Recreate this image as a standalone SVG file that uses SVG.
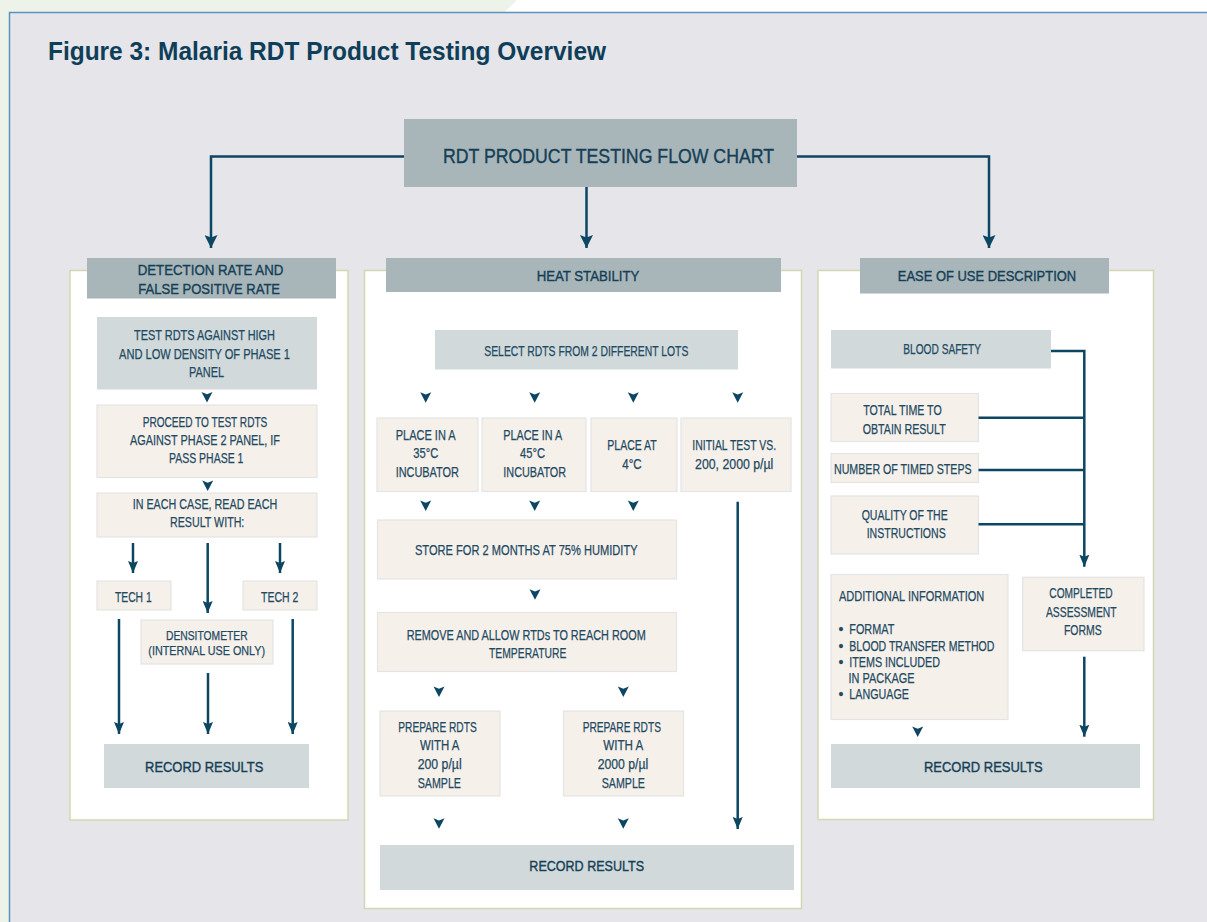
<svg xmlns="http://www.w3.org/2000/svg" xmlns:xlink="http://www.w3.org/1999/xlink" width="1207" height="922" viewBox="0 0 1207 922">
<style>
.bg{fill:#eef3ea}
.panel{fill:#e5e5ea}
.col{fill:#ffffff;stroke:#d5d7b3;stroke-width:1.5}
.hdr{fill:#a8b6ba}
.blue{fill:#d1d9db}
.beige{fill:#f6f0eb;stroke:#e4e4e4;stroke-width:1.2}
text{font-family:"Liberation Sans",Arial,sans-serif;fill:#1e4a62;font-size:14px;stroke:#1e4a62;stroke-width:0.25}
.c{text-anchor:middle}
.s{font-size:12.5px}
.h{font-size:15.5px;fill:#163f56;stroke:#163f56;stroke-width:0.4}
.r{font-size:15.5px;fill:#163f56;stroke:#163f56;stroke-width:0.4}
.title{font-size:25px;font-weight:bold;fill:#0f3e58;stroke:none}
.top{font-size:21px;fill:#163f56;stroke:#163f56;stroke-width:0.4}
.ln{fill:none;stroke:#0d4663;stroke-width:2.5}
</style>
<defs>
<marker id="mb" viewBox="0 0 13 13" markerWidth="13" markerHeight="13" refX="6.5" refY="13" orient="0" markerUnits="userSpaceOnUse">
<path d="M0,0 L6.5,2.5 L13,0 L6.5,13 Z" fill="#0d4663"/>
</marker>
<marker id="md" viewBox="0 0 10 12" markerWidth="10" markerHeight="12" refX="5" refY="12" orient="0" markerUnits="userSpaceOnUse">
<path d="M0,0 L5,2 L10,0 L5,12 Z" fill="#0d4663"/>
</marker>
<path id="sa" d="M-5.5,0 L0,2.2 L5.5,0 L0,10.5 Z" fill="#0d4663"/>
</defs>

<rect class="bg" x="0" y="0" width="1207" height="922"/>
<polygon points="517,0 1207,0 1207,12 505,12" fill="#ffffff"/>
<rect class="panel" x="9.5" y="12.5" width="1198" height="910"/>
<path d="M9.5,922 V12.5 H1207" fill="none" stroke="#5b93c0" stroke-width="1.5"/>

<text class="title" x="48" y="60" textLength="558" lengthAdjust="spacingAndGlyphs">Figure 3: Malaria RDT Product Testing Overview</text>

<g id="top-node">
<rect class="hdr" x="404" y="119" width="393" height="68"/>
<text class="top c" x="608.5" y="163" textLength="331" lengthAdjust="spacingAndGlyphs">RDT PRODUCT TESTING FLOW CHART</text>
</g>

<!-- Left column -->
<g id="col-left">
<rect class="col" x="70" y="270.5" width="278" height="549.5"/>
</g>
<g id="hdr-detection">
<rect class="hdr" x="87" y="258" width="249" height="40.5"/>
<text class="h c" x="210.5" y="275" textLength="145.7" lengthAdjust="spacingAndGlyphs">DETECTION RATE AND</text>
<text class="h c" x="209.2" y="294" textLength="141.7" lengthAdjust="spacingAndGlyphs">FALSE POSITIVE RATE</text>
</g>
<g id="test-rdts">
<rect class="blue" x="97" y="317" width="220" height="72.5"/>
<text class="c" x="204.5" y="340" textLength="141" lengthAdjust="spacingAndGlyphs">TEST RDTS AGAINST HIGH</text>
<text class="c" x="204.5" y="359" textLength="171" lengthAdjust="spacingAndGlyphs">AND LOW DENSITY OF PHASE 1</text>
<text class="c" x="206.5" y="377" textLength="35" lengthAdjust="spacingAndGlyphs">PANEL</text>
</g>
<g id="proceed">
<rect class="beige" x="97" y="405" width="220" height="72.5"/>
<text class="c" x="205" y="426.7" textLength="124.6" lengthAdjust="spacingAndGlyphs">PROCEED TO TEST RDTS</text>
<text class="c" x="205" y="445" textLength="150" lengthAdjust="spacingAndGlyphs">AGAINST PHASE 2 PANEL, IF</text>
<text class="c" x="206.2" y="463.3" textLength="74.3" lengthAdjust="spacingAndGlyphs">PASS PHASE 1</text>
</g>
<g id="each-case">
<rect class="beige" x="97" y="493" width="220" height="44"/>
<text class="c" x="205" y="509.3" textLength="144.6" lengthAdjust="spacingAndGlyphs">IN EACH CASE, READ EACH</text>
<text class="c" x="207.2" y="526.7" textLength="74.3" lengthAdjust="spacingAndGlyphs">RESULT WITH:</text>
</g>
<g id="tech1">
<rect class="beige" x="97" y="581" width="74" height="29"/>
<text class="c" x="133.3" y="601.7" textLength="36.7" lengthAdjust="spacingAndGlyphs">TECH 1</text>
</g>
<g id="tech2">
<rect class="beige" x="243" y="581" width="74" height="29"/>
<text class="c" x="279.7" y="601.7" textLength="37.3" lengthAdjust="spacingAndGlyphs">TECH 2</text>
</g>
<g id="densitometer">
<rect class="beige" x="141" y="620" width="132" height="44"/>
<text class="c s" x="206.8" y="639.8" textLength="81.7" lengthAdjust="spacingAndGlyphs">DENSITOMETER</text>
<text class="c s" x="206.7" y="654.5" textLength="116.7" lengthAdjust="spacingAndGlyphs">(INTERNAL USE ONLY)</text>
</g>
<g id="record-left">
<rect class="blue" x="104" y="744" width="205" height="44"/>
<text class="r c" x="204.2" y="772" textLength="118.3" lengthAdjust="spacingAndGlyphs">RECORD RESULTS</text>
</g>

<!-- Center column -->
<g id="col-center">
<rect class="col" x="364.5" y="270.5" width="437" height="638"/>
</g>
<g id="hdr-heat">
<rect class="hdr" x="386" y="258" width="395" height="34"/>
<text class="h c" x="588" y="281" textLength="102.7" lengthAdjust="spacingAndGlyphs">HEAT STABILITY</text>
</g>
<g id="select-rdts">
<rect class="blue" x="435" y="330" width="303" height="39.5"/>
<text class="c" x="586.3" y="356" textLength="204" lengthAdjust="spacingAndGlyphs">SELECT RDTS FROM 2 DIFFERENT LOTS</text>
</g>
<g id="place-35">
<rect class="beige" x="377" y="418" width="101" height="73.5"/>
<text class="c" x="425.7" y="440" textLength="60" lengthAdjust="spacingAndGlyphs">PLACE IN A</text>
<text class="c" x="425.8" y="458.3" textLength="25" lengthAdjust="spacingAndGlyphs">35°C</text>
<text class="c" x="427.3" y="477.3" textLength="63.3" lengthAdjust="spacingAndGlyphs">INCUBATOR</text>
</g>
<g id="place-45">
<rect class="beige" x="482" y="418" width="104" height="73.5"/>
<text class="c" x="532.8" y="440" textLength="59" lengthAdjust="spacingAndGlyphs">PLACE IN A</text>
<text class="c" x="532.5" y="458.3" textLength="25" lengthAdjust="spacingAndGlyphs">45°C</text>
<text class="c" x="534.7" y="477.3" textLength="62.7" lengthAdjust="spacingAndGlyphs">INCUBATOR</text>
</g>
<g id="place-4">
<rect class="beige" x="591" y="418" width="86" height="73.5"/>
<text class="c" x="632" y="450" textLength="49.4" lengthAdjust="spacingAndGlyphs">PLACE AT</text>
<text class="c" x="632" y="469" textLength="19.4" lengthAdjust="spacingAndGlyphs">4°C</text>
</g>
<g id="initial-test">
<rect class="beige" x="681" y="418" width="110" height="73.5"/>
<text class="c" x="734.2" y="450" textLength="83.7" lengthAdjust="spacingAndGlyphs">INITIAL TEST VS.</text>
<text class="c" x="734.2" y="469" textLength="78.3" lengthAdjust="spacingAndGlyphs">200, 2000 p/µl</text>
</g>
<g id="store">
<rect class="beige" x="377.5" y="520" width="299" height="59"/>
<text class="c" x="526.3" y="555" textLength="222.7" lengthAdjust="spacingAndGlyphs">STORE FOR 2 MONTHS AT 75% HUMIDITY</text>
</g>
<g id="remove">
<rect class="beige" x="377.5" y="612.5" width="299" height="59"/>
<text class="c" x="526.2" y="640" textLength="239" lengthAdjust="spacingAndGlyphs">REMOVE AND ALLOW RTDs TO REACH ROOM</text>
<text class="c" x="527.7" y="657.7" textLength="77.3" lengthAdjust="spacingAndGlyphs">TEMPERATURE</text>
</g>
<g id="prepare-200">
<rect class="beige" x="380" y="711" width="120" height="85"/>
<text class="c" x="437.5" y="731.7" textLength="78.4" lengthAdjust="spacingAndGlyphs">PREPARE RDTS</text>
<text class="c" x="439.7" y="750" textLength="39.3" lengthAdjust="spacingAndGlyphs">WITH A</text>
<text class="c" x="439.7" y="769.3" textLength="44" lengthAdjust="spacingAndGlyphs">200 p/µl</text>
<text class="c" x="439.3" y="787.7" textLength="43.3" lengthAdjust="spacingAndGlyphs">SAMPLE</text>
</g>
<g id="prepare-2000">
<rect class="beige" x="563.5" y="711" width="120" height="85"/>
<text class="c" x="621.8" y="731.7" textLength="78.3" lengthAdjust="spacingAndGlyphs">PREPARE RDTS</text>
<text class="c" x="623.3" y="750" textLength="40" lengthAdjust="spacingAndGlyphs">WITH A</text>
<text class="c" x="623" y="769.3" textLength="50.6" lengthAdjust="spacingAndGlyphs">2000 p/µl</text>
<text class="c" x="623.3" y="787.7" textLength="43.3" lengthAdjust="spacingAndGlyphs">SAMPLE</text>
</g>
<g id="record-center">
<rect class="blue" x="380" y="845" width="414" height="45"/>
<text class="r c" x="586.7" y="871" textLength="114.7" lengthAdjust="spacingAndGlyphs">RECORD RESULTS</text>
</g>

<!-- Right column -->
<g id="col-right">
<rect class="col" x="818" y="270.5" width="335.5" height="549"/>
</g>
<g id="hdr-ease">
<rect class="hdr" x="860" y="258" width="249" height="35.5"/>
<text class="h c" x="987" y="281" textLength="178.3" lengthAdjust="spacingAndGlyphs">EASE OF USE DESCRIPTION</text>
</g>
<g id="blood-safety">
<rect class="blue" x="831" y="330" width="220" height="38.5"/>
<text class="c" x="942.2" y="354" textLength="77.7" lengthAdjust="spacingAndGlyphs">BLOOD SAFETY</text>
</g>
<g id="total-time">
<rect class="beige" x="831" y="393.5" width="147.5" height="48"/>
<text class="c" x="902.5" y="415" textLength="78.4" lengthAdjust="spacingAndGlyphs">TOTAL TIME TO</text>
<text class="c" x="904.2" y="434" textLength="83" lengthAdjust="spacingAndGlyphs">OBTAIN RESULT</text>
</g>
<g id="timed-steps">
<rect class="beige" x="831" y="453.5" width="147.5" height="29"/>
<text class="c" x="902.8" y="474.3" textLength="137.7" lengthAdjust="spacingAndGlyphs">NUMBER OF TIMED STEPS</text>
</g>
<g id="quality">
<rect class="beige" x="831" y="496" width="147.5" height="58"/>
<text class="c" x="904.7" y="520" textLength="86" lengthAdjust="spacingAndGlyphs">QUALITY OF THE</text>
<text class="c" x="906.2" y="538.3" textLength="79" lengthAdjust="spacingAndGlyphs">INSTRUCTIONS</text>
</g>
<g id="additional-info">
<rect class="beige" x="831" y="574.5" width="177" height="145"/>
<text x="839" y="600.7" textLength="145.3" lengthAdjust="spacingAndGlyphs">ADDITIONAL INFORMATION</text>
<text x="838.5" y="634">•</text>
<text x="849.3" y="634" textLength="45" lengthAdjust="spacingAndGlyphs">FORMAT</text>
<text x="838.5" y="650.7">•</text>
<text x="849.3" y="650.7" textLength="145" lengthAdjust="spacingAndGlyphs">BLOOD TRANSFER METHOD</text>
<text x="838.5" y="666.7">•</text>
<text x="849.3" y="666.7" textLength="90.7" lengthAdjust="spacingAndGlyphs">ITEMS INCLUDED</text>
<text x="848.5" y="683.3" textLength="66" lengthAdjust="spacingAndGlyphs">IN PACKAGE</text>
<text x="838.5" y="699.3">•</text>
<text x="849.3" y="699.3" textLength="59.7" lengthAdjust="spacingAndGlyphs">LANGUAGE</text>
</g>
<g id="completed-forms">
<rect class="beige" x="1022.7" y="577.3" width="121.3" height="73.4"/>
<text class="c" x="1081" y="598.3" textLength="63.4" lengthAdjust="spacingAndGlyphs">COMPLETED</text>
<text class="c" x="1081.3" y="616.7" textLength="70.7" lengthAdjust="spacingAndGlyphs">ASSESSMENT</text>
<text class="c" x="1082.8" y="635" textLength="37.7" lengthAdjust="spacingAndGlyphs">FORMS</text>
</g>
<g id="record-right">
<rect class="blue" x="831" y="744" width="309" height="44"/>
<text class="r c" x="983.3" y="771.7" textLength="118.7" lengthAdjust="spacingAndGlyphs">RECORD RESULTS</text>
</g>

<!-- Connectors -->
<g id="connectors">
<path class="ln" d="M404,156.5 H211 V248" marker-end="url(#mb)"/>
<path class="ln" d="M797,156.5 H989 V248" marker-end="url(#mb)"/>
<path class="ln" d="M586.5,187 V248" marker-end="url(#mb)"/>

<use href="#sa" x="207" y="392"/>
<use href="#sa" x="207.7" y="480.5"/>
<path class="ln" d="M133,543 V573" marker-end="url(#md)"/>
<path class="ln" d="M207.7,543 V613" marker-end="url(#md)"/>
<path class="ln" d="M280,543 V573" marker-end="url(#md)"/>
<path class="ln" d="M119,619 V734" marker-end="url(#md)"/>
<path class="ln" d="M208,673 V734" marker-end="url(#md)"/>
<path class="ln" d="M292.7,619 V734" marker-end="url(#md)"/>

<use href="#sa" x="425.7" y="392.3"/>
<use href="#sa" x="534.7" y="392.3"/>
<use href="#sa" x="633.3" y="392.3"/>
<use href="#sa" x="737.7" y="392.3"/>
<use href="#sa" x="425.7" y="500.5"/>
<use href="#sa" x="534.7" y="500.5"/>
<use href="#sa" x="633.3" y="500.5"/>
<path class="ln" d="M737.7,501.7 V829" marker-end="url(#md)"/>
<use href="#sa" x="535" y="589.3"/>
<use href="#sa" x="439" y="686.5"/>
<use href="#sa" x="623.3" y="686.5"/>
<use href="#sa" x="439" y="818.3"/>
<use href="#sa" x="623.3" y="818.3"/>

<path class="ln" d="M1051,351 H1084.3 V566.7" marker-end="url(#md)"/>
<path class="ln" d="M978.5,417.7 H1084.3"/>
<path class="ln" d="M978.5,470 H1084.3"/>
<path class="ln" d="M978.5,524.3 H1084.3"/>
<path class="ln" d="M1084.3,656.7 V736.7" marker-end="url(#md)"/>
<use href="#sa" x="917.7" y="726.5"/>
</g>
</svg>
